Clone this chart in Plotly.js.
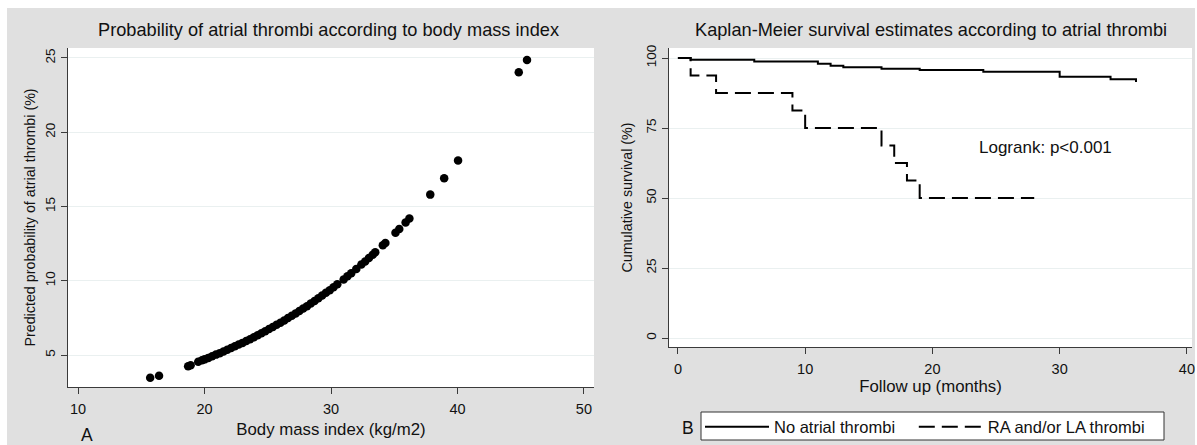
<!DOCTYPE html>
<html>
<head>
<meta charset="utf-8">
<script src="https://cdn.plot.ly/plotly-3.0.1.min.js"></script>
<style>html,body{margin:0;padding:0;background:#fff;}#chart{width:1197px;height:445px;}</style>
</head>
<body>
<div id="chart"></div>
<script>
// Panel A: predicted probability of atrial thrombi vs BMI
const bmi = [15.7, 16.4, 18.7, 18.9, 19.5, 19.8, 20.0, 20.3, 20.6, 20.9, 21.2, 21.5, 21.8, 22.1, 22.4, 22.7, 23.0, 23.3, 23.6, 23.9, 24.2, 24.5, 24.8, 25.1, 25.4, 25.7, 26.0, 26.3, 26.6, 26.9, 27.2, 27.5, 27.8, 28.1, 28.4, 28.7, 29.0, 29.3, 29.6, 29.9, 30.2, 30.5, 31.0, 31.3, 31.6, 32.0, 32.4, 32.7, 33.0, 33.3, 33.5, 34.1, 34.3, 35.1, 35.4, 35.9, 36.2, 37.85, 38.95, 40.05, 44.85, 45.5];
const prob = [3.47, 3.60, 4.25, 4.32, 4.55, 4.65, 4.71, 4.81, 4.92, 5.03, 5.13, 5.24, 5.36, 5.47, 5.59, 5.71, 5.82, 5.95, 6.07, 6.20, 6.34, 6.47, 6.60, 6.75, 6.89, 7.04, 7.18, 7.33, 7.49, 7.64, 7.80, 7.97, 8.13, 8.29, 8.47, 8.64, 8.82, 9.01, 9.19, 9.37, 9.57, 9.76, 10.09, 10.30, 10.51, 10.79, 11.09, 11.30, 11.53, 11.76, 11.92, 12.39, 12.55, 13.23, 13.48, 13.92, 14.20, 15.80, 16.90, 18.10, 24.03, 24.86];

// Panel B: Kaplan-Meier estimates
const noThrombiMonths = [0, 1, 6, 11, 12, 13, 16, 19, 24, 30, 34, 36];
const noThrombiSurv   = [100, 99.4, 98.8, 98.0, 97.3, 96.7, 96.2, 95.7, 95.1, 93.3, 92.4, 91.5];
const thrombiMonths   = [0, 1, 3, 9, 10, 16, 17, 18, 19, 28];
const thrombiSurv     = [100, 93.75, 87.5, 81.25, 75, 68.75, 62.5, 56.25, 50, 50];

const xTicksA = [10, 20, 30, 40, 50];
const yTicksA = [5, 10, 15, 20, 25];
const xTicksB = [0, 10, 20, 30, 40];
const yTicksB = [0, 25, 50, 75, 100];

const W = 1197, H = 445;
const FONT = 'Liberation Sans, Arial, sans-serif';
const px = v => v / W;
const py = v => 1 - v / H;
const NB = '\u00A0';

const axisCommon = {
  showline: true, linecolor: '#3a3a3a', linewidth: 1,
  ticks: 'outside', ticklen: 6, tickcolor: '#3a3a3a', tickwidth: 1,
  zeroline: false, tickfont: {family: FONT, size: 14.5, color: '#111'},
  ticklabelstandoff: 3, automargin: false
};
const yTickFont = {family: FONT, size: 13.5, color: '#111'};

const traces = [
  {x: bmi, y: prob, type: 'scatter', mode: 'markers', xaxis: 'x', yaxis: 'y',
   marker: {color: '#000', size: 8.5}, showlegend: false, hoverinfo: 'x+y'},
  {x: noThrombiMonths, y: noThrombiSurv, type: 'scatter', mode: 'lines', xaxis: 'x2', yaxis: 'y2',
   line: {color: '#000', width: 2, shape: 'hv'}, name: 'No atrial thrombi' + NB + NB + NB},
  {x: thrombiMonths, y: thrombiSurv, type: 'scatter', mode: 'lines', xaxis: 'x2', yaxis: 'y2',
   line: {color: '#000', width: 2, shape: 'hv', dash: '16px,7px'}, name: 'RA and/or LA thrombi'}
];

const layout = {
  width: W, height: H,
  margin: {l: 0, r: 0, t: 0, b: 0, autoexpand: false},
  paper_bgcolor: '#e0e0e0', plot_bgcolor: '#ffffff',
  font: {family: FONT, color: '#111'},
  xaxis: Object.assign({}, axisCommon, {
    domain: [px(68), px(594)], anchor: 'y', range: [9.2, 50.8],
    tickvals: xTicksA, ticktext: xTicksA.map(String), showgrid: false,
    title: {text: 'Body mass index (kg/m2)', font: {family: FONT, size: 16.8, color: '#111'}, standoff: 6}
  }),
  yaxis: Object.assign({}, axisCommon, {
    domain: [py(387), py(48)], anchor: 'x', range: [2.85, 25.67],
    tickvals: yTicksA, ticktext: yTicksA.map(String), tickangle: -90, tickfont: yTickFont, ticklabelstandoff: 1,
    showgrid: true, gridcolor: '#eaf0f0', gridwidth: 1,
    title: {text: 'Predicted probability of atrial thrombi (%)', font: {family: FONT, size: 14.3, color: '#111'}, standoff: 3}
  }),
  xaxis2: Object.assign({}, axisCommon, {
    domain: [px(669), px(1192)], anchor: 'y2', range: [-0.7, 40.4],
    tickvals: xTicksB, ticktext: xTicksB.map(String), showgrid: false,
    title: {text: 'Follow up (months)', font: {family: FONT, size: 16.8, color: '#111'}, standoff: 2}
  }),
  yaxis2: Object.assign({}, axisCommon, {
    domain: [py(347), py(48)], anchor: 'x2', range: [-3.2, 103.6],
    tickvals: yTicksB, ticktext: yTicksB.map(String), tickangle: -90, tickfont: yTickFont, ticklabelstandoff: 1,
    showgrid: true, gridcolor: '#eaf0f0', gridwidth: 1,
    title: {text: 'Cumulative survival (%)', font: {family: FONT, size: 14.3, color: '#111'}, standoff: 7}
  }),
  showlegend: true,
  legend: {
    orientation: 'h', x: px(700), y: py(427), xanchor: 'left', yanchor: 'middle',
    bgcolor: 'rgba(0,0,0,0)', borderwidth: 0,
    font: {family: FONT, size: 16.5, color: '#111'},
    itemwidth: 64, tracegroupgap: 0
  },
  shapes: [
    {type: 'rect', xref: 'paper', yref: 'paper', x0: 0, x1: 1, y0: py(8), y1: 1, fillcolor: '#ffffff', line: {width: 0}, layer: 'above'},
    {type: 'rect', xref: 'paper', yref: 'paper', x0: 0, x1: px(7), y0: 0, y1: 1, fillcolor: '#ffffff', line: {width: 0}, layer: 'above'},
    {type: 'rect', xref: 'paper', yref: 'paper', x0: px(1195), x1: 1, y0: 0, y1: 1, fillcolor: '#ffffff', line: {width: 0}, layer: 'above'},
    // legend frame
    {type: 'rect', xref: 'paper', yref: 'paper', x0: px(701), x1: px(1164), y0: py(440), y1: py(412), fillcolor: '#ffffff', line: {width: 1, color: '#333'}, layer: 'above'}
  ],
  annotations: [
    {text: 'Probability of atrial thrombi according to body mass index', xref: 'paper', yref: 'paper',
     x: px(328), y: py(30), xanchor: 'center', yanchor: 'middle', showarrow: false,
     font: {family: FONT, size: 18.2, color: '#111'}},
    {text: 'Kaplan-Meier survival estimates according to atrial thrombi', xref: 'paper', yref: 'paper',
     x: px(931), y: py(30), xanchor: 'center', yanchor: 'middle', showarrow: false,
     font: {family: FONT, size: 18.2, color: '#111'}},
    {text: 'Logrank: p<0.001', xref: 'x2', yref: 'y2', x: 23.5, y: 68.2, xanchor: 'left', yanchor: 'middle',
     showarrow: false, font: {family: FONT, size: 17, color: '#111'}},
    {text: 'A', xref: 'paper', yref: 'paper', x: px(87), y: py(435), xanchor: 'center', yanchor: 'middle',
     showarrow: false, font: {family: FONT, size: 17.5, color: '#111'}},
    {text: 'B', xref: 'paper', yref: 'paper', x: px(688), y: py(428), xanchor: 'center', yanchor: 'middle',
     showarrow: false, font: {family: FONT, size: 17.5, color: '#111'}}
  ]
};

Plotly.newPlot('chart', traces, layout, {displayModeBar: false, staticPlot: true});
</script>
</body>
</html>
